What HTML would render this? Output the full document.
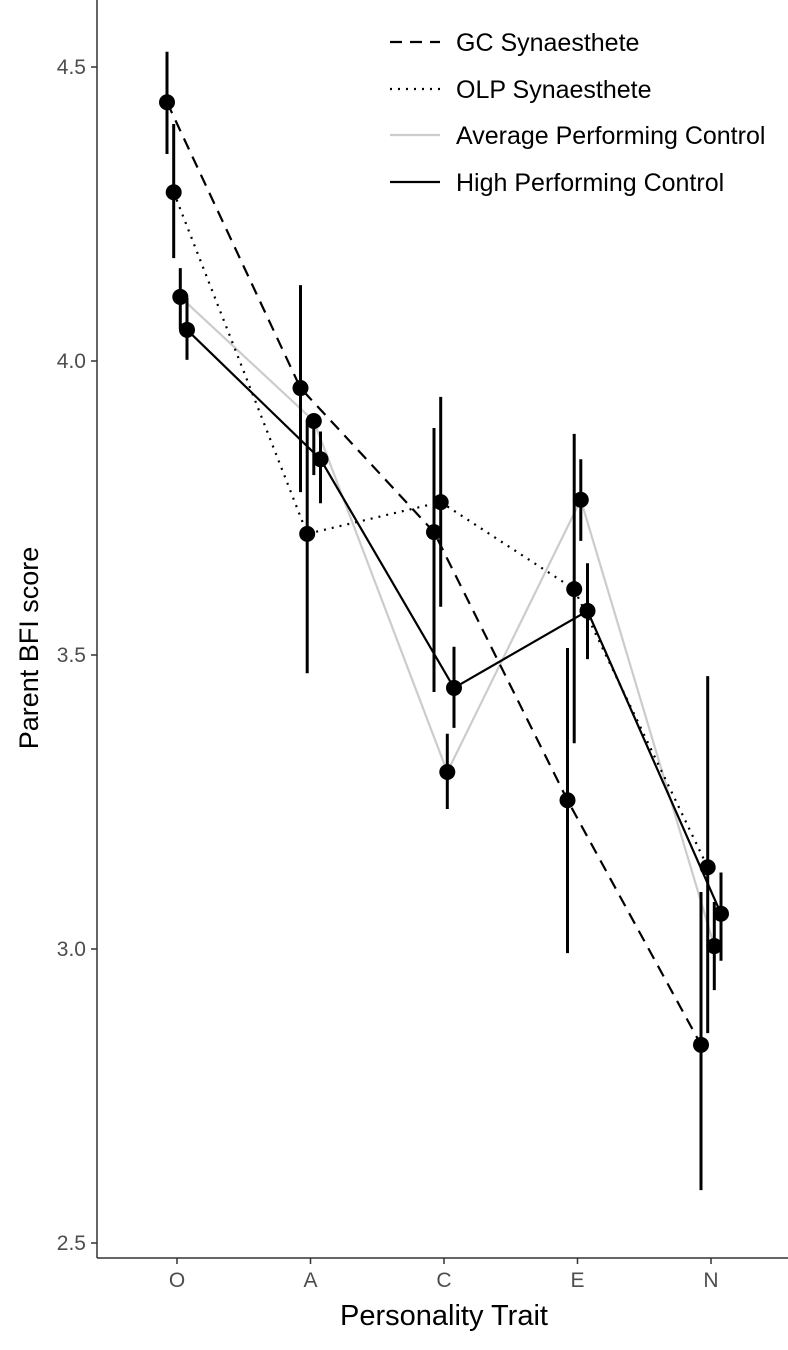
<!DOCTYPE html>
<html><head><meta charset="utf-8"><style>
html,body{margin:0;padding:0;background:#fff}
svg{display:block;font-family:"Liberation Sans",sans-serif}
</style></head><body>
<svg id="chart" width="788" height="1350" viewBox="0 0 788 1350" xmlns="http://www.w3.org/2000/svg">
<g id="axes"></g>
<g id="lines"></g>
<g id="bars"></g>
<g id="pts"></g>
<g id="legend"></g>
<text transform="translate(38,648) rotate(-90)" text-anchor="middle" font-size="27" fill="#000">Parent BFI score</text>
<text x="444" y="1325" text-anchor="middle" font-size="29" fill="#000">Personality Trait</text>
</svg>
<script>
const categories = ["O","A","C","E","N"];
const seriesNames = ["GC Synaesthete","OLP Synaesthete","Average Performing Control","High Performing Control"];
const gcMean  = [4.44, 3.954, 3.709, 3.253, 2.837];
const gcLow   = [4.352, 3.777, 3.437, 2.993, 2.59];
const gcHigh  = [4.526, 4.129, 3.886, 3.512, 3.097];
const olpMean = [4.287, 3.706, 3.760, 3.612, 3.139];
const olpLow  = [4.175, 3.469, 3.582, 3.35, 2.857];
const olpHigh = [4.403, 3.90, 3.939, 3.876, 3.464];
const avgMean = [4.109, 3.898, 3.301, 3.764, 3.005];
const avgLow  = [4.054, 3.806, 3.238, 3.694, 2.93];
const avgHigh = [4.158, 3.905, 3.366, 3.833, 3.08];
const hiMean  = [4.053, 3.833, 3.444, 3.575, 3.06];
const hiLow   = [4.002, 3.758, 3.376, 3.493, 2.98];
const hiHigh  = [4.107, 3.88, 3.514, 3.656, 3.13];
const yTicks = [2.5, 3.0, 3.5, 4.0, 4.5];

const NS="http://www.w3.org/2000/svg";
function yS(v){return 67+(4.5-v)*588;}
function xS(i){return 177+133.5*i;}
const dodge=[-10,-3.3,3.3,10];
const styles=[
 {stroke:"#000",dash:"12,8"},
 {stroke:"#000",dash:"2,6"},
 {stroke:"#cccccc",dash:""},
 {stroke:"#000",dash:""}];
const means=[gcMean,olpMean,avgMean,hiMean];
const lows=[gcLow,olpLow,avgLow,hiLow];
const highs=[gcHigh,olpHigh,avgHigh,hiHigh];
function mk(tag,attrs,parent){const e=document.createElementNS(NS,tag);for(const k in attrs)e.setAttribute(k,attrs[k]);parent.appendChild(e);return e;}
const axes=document.getElementById('axes');
let ax=mk('line',{x1:97,y1:0,x2:97,y2:1258,stroke:"#333","stroke-width":1.5},axes);


let ax2=mk('line',{x1:97,y1:1258,x2:788,y2:1258,stroke:"#333","stroke-width":1.5},axes);


yTicks.forEach(t=>{
 const y=yS(t);
 const tk=mk('line',{x1:91,y1:y,x2:97,y2:y,stroke:"#333","stroke-width":1.5},axes);
 
 
 const tx=mk('text',{x:86,y:y+7,"text-anchor":"end","font-size":21,fill:"#4d4d4d"},axes);
 
 
 tx.textContent=t.toFixed(1);
});
categories.forEach((c,i)=>{
 const x=xS(i);
 const tk=mk('line',{x1:x,y1:1258,x2:x,y2:1264,stroke:"#333","stroke-width":1.5},axes);
 
 
 const tx=mk('text',{x:x,y:1287,"text-anchor":"middle","font-size":21,fill:"#4d4d4d"},axes);
 
 
 tx.textContent=c;
});
const gl=document.getElementById('lines'),gb=document.getElementById('bars'),gp=document.getElementById('pts');
[2,0,1,3].forEach(s=>{
 const pts=means[s].map((v,i)=>(xS(i)+dodge[s])+","+yS(v)).join(" ");
 const pl=mk('polyline',{points:pts,fill:"none",stroke:styles[s].stroke,"stroke-width":2.2,"stroke-dasharray":styles[s].dash},gl);
 
 
});
for(let s=0;s<4;s++){
 means[s].forEach((v,i)=>{
  const x=xS(i)+dodge[s];
  const b=mk('line',{x1:x,x2:x,y1:yS(highs[s][i]),y2:yS(lows[s][i]),stroke:"#000","stroke-width":3},gb);
  
  
  const p=mk('circle',{cx:x,cy:yS(v),r:8,fill:"#000"},gp);
  
  
 });
}
const lg=document.getElementById('legend');
const ly=[42,89,135,182];
seriesNames.forEach((n,s)=>{
 const g=mk('g',{},lg);
 
 
 mk('line',{x1:390,x2:440,y1:ly[s],y2:ly[s],stroke:styles[s].stroke,"stroke-width":2.2,"stroke-dasharray":styles[s].dash},g);
 const t=mk('text',{x:456,y:ly[s]+9,"font-size":25,fill:"#000"},g);
 t.textContent=n;
});
</script>
</body></html>
